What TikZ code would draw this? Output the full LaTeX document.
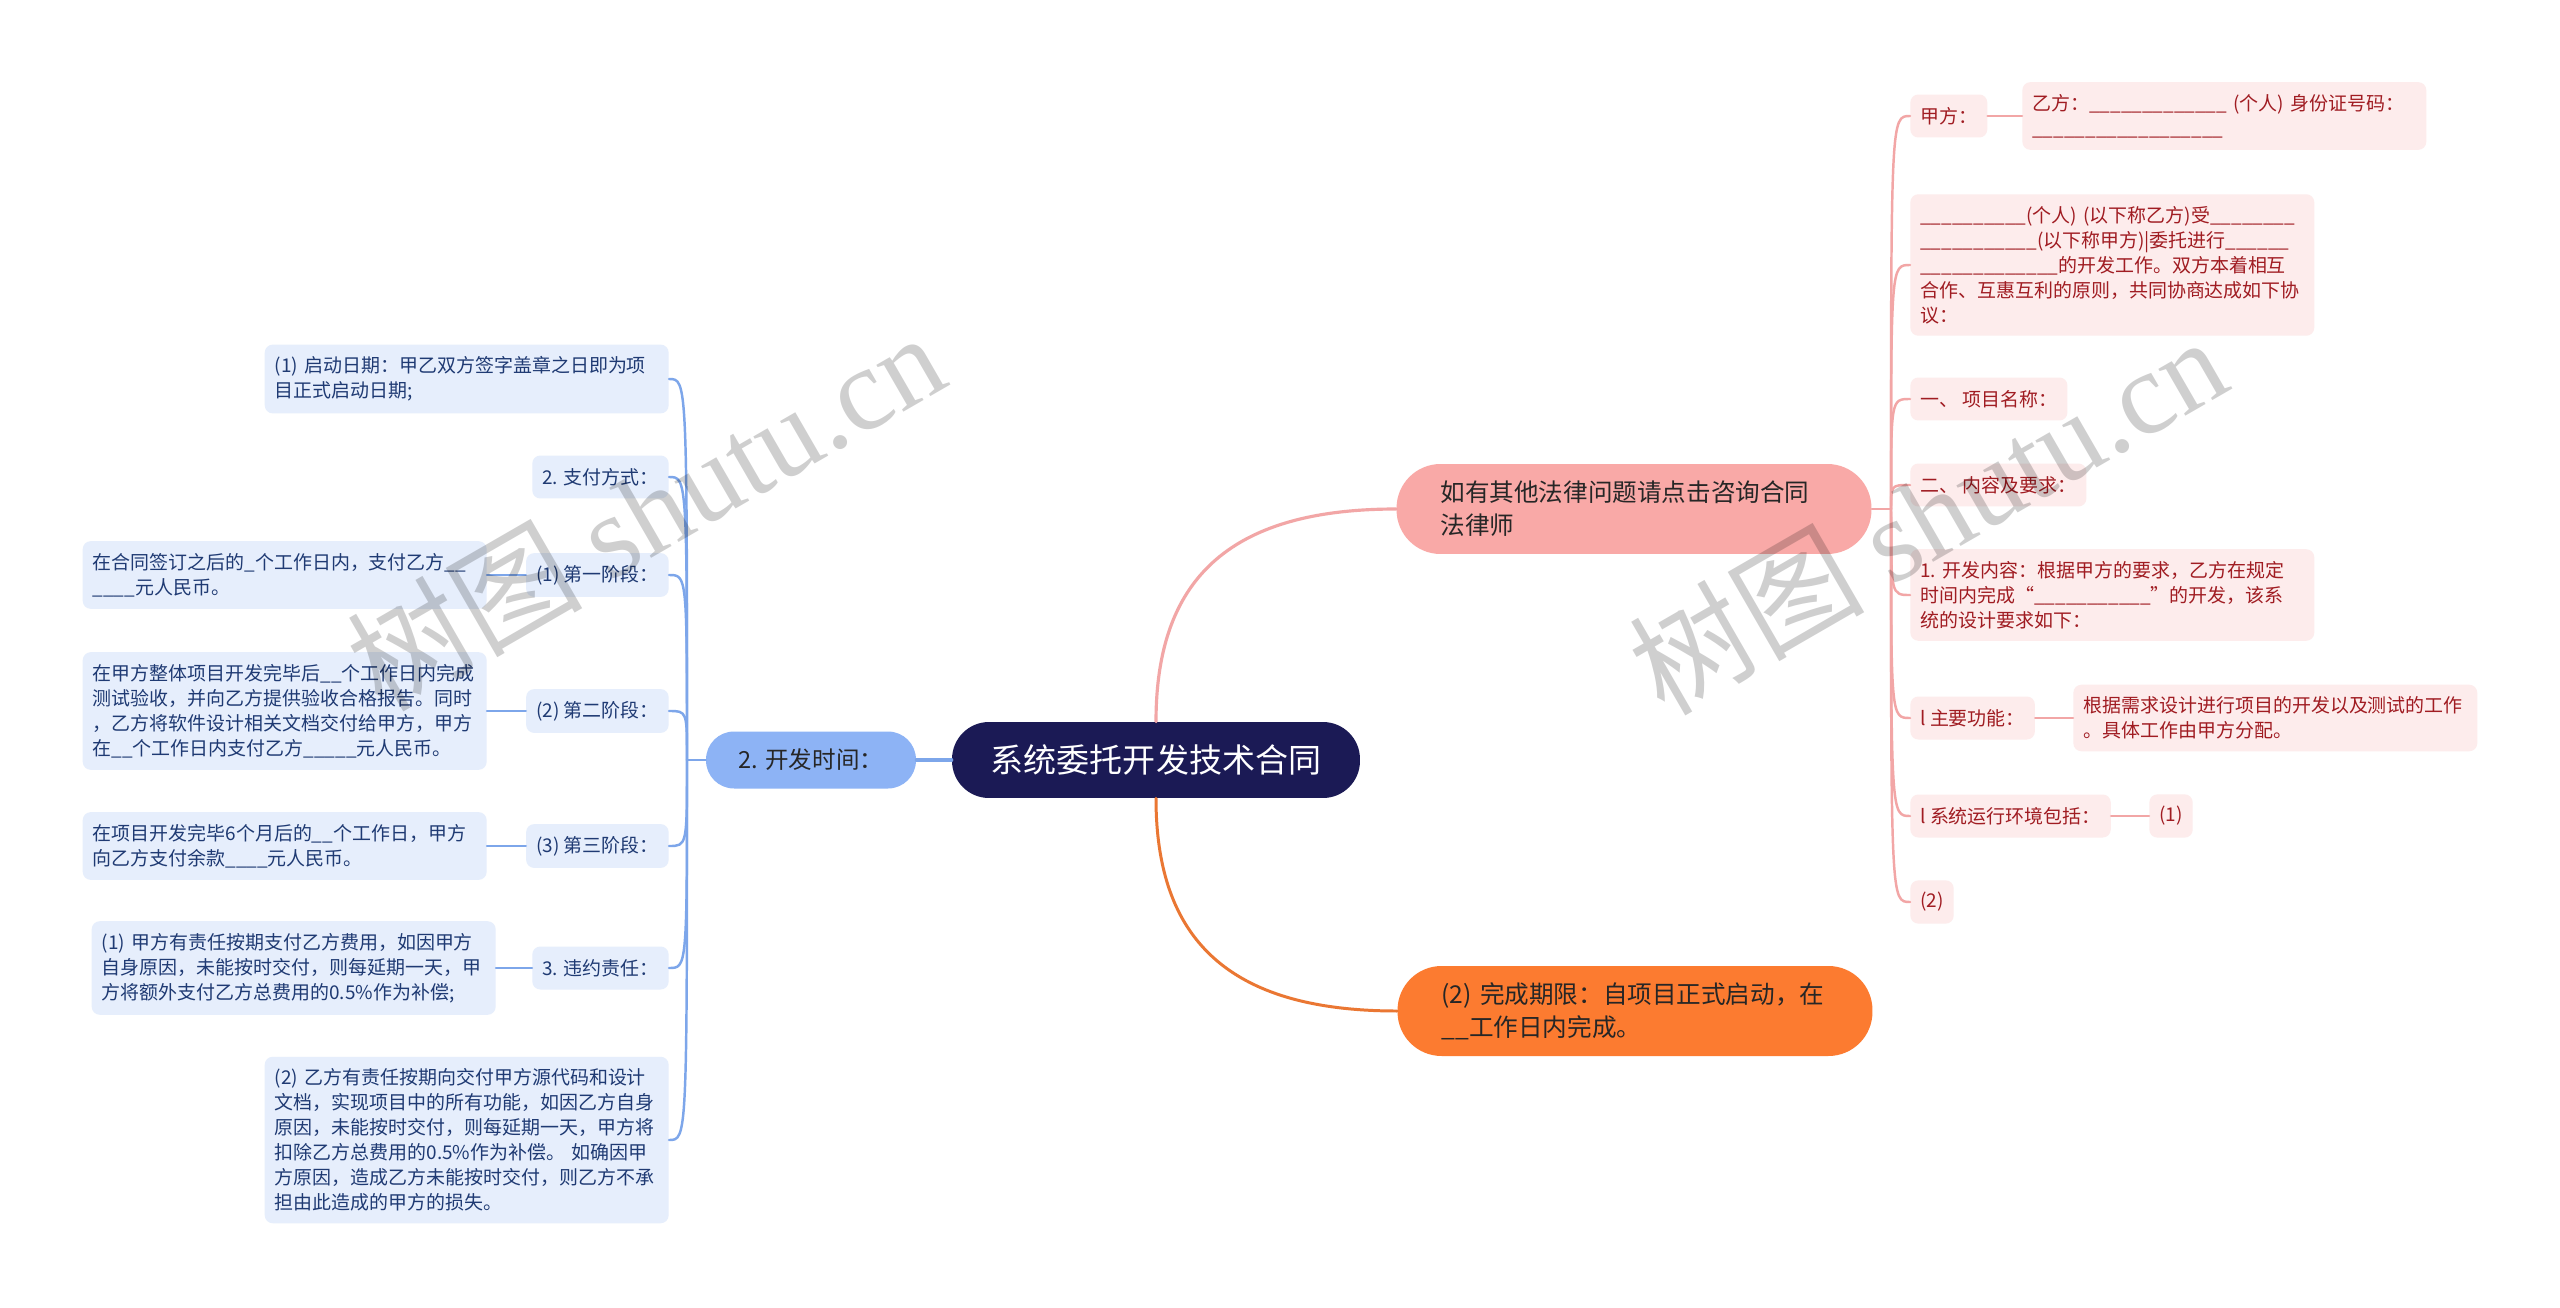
\documentclass[tikz,border=0pt]{standalone}
\usepackage{fontspec}
\setmainfont{Noto Sans CJK SC}
\newfontfamily\wmserif{Liberation Serif}
\definecolor{navy}{HTML}{1B1A55}
\definecolor{bluemid}{HTML}{8DB3F5}
\definecolor{bluepale}{HTML}{E6EEFC}
\definecolor{bluelink}{HTML}{7DA6EA}
\definecolor{bluetext}{HTML}{1F3A73}
\definecolor{rosemid}{HTML}{F9A9A7}
\definecolor{rosepale}{HTML}{FDECEC}
\definecolor{roselink}{HTML}{F2A6A6}
\definecolor{rosetext}{HTML}{A01C22}
\definecolor{orangemid}{HTML}{FC7B30}
\definecolor{orangelink}{HTML}{EA7733}
\newcommand{\ulrun}[1]{\foreach \k in {1,...,#1}{\_}}
\begin{document}
\begin{tikzpicture}[x=0.02cm, y=-0.02cm, line cap=round, line join=round,
	smallfont/.style={font=\fontsize{10.8}{14.2}\selectfont},
	rootbox/.style={fill=navy, text=white, rounded corners=0.74cm, minimum width=8.16cm, minimum height=1.52cm, font=\fontsize{18.8}{24}\selectfont},
	kfbox/.style={fill=bluemid, text=black!85, rounded corners=0.56cm, minimum width=4.2cm, minimum height=1.14cm, font=\fontsize{13.4}{18}\selectfont},
	bigbox/.style={rounded corners=0.88cm, minimum height=1.8cm, inner xsep=0.88cm, text width=7.74cm, align=left, text=black!85, font=\fontsize{14}{18.8}\selectfont},
	leaf/.style={rounded corners=0.16cm, inner xsep=0.2cm, inner ysep=0.24cm, minimum height=0.86cm, align=left, smallfont},
	blueleaf/.style={leaf, fill=bluepale, text=bluetext},
	roseleaf/.style={leaf, fill=rosepale, text=rosetext},
	wide/.style={text width=7.68cm},
	blueline/.style={draw=bluelink, line width=1.4pt},
	roseline/.style={draw=roselink, line width=1.4pt},
	orangeline/.style={draw=orangelink, line width=1.7pt},
	watermark/.style={rotate=30, text=black, text opacity=0.19, font=\fontsize{67}{67}\selectfont}]
	\fill[white](0,0)rectangle(2560,1308);
	\useasboundingbox(0,0)rectangle(2560,1308);
	\node[rootbox](root)at(1156,760){系统委托开发技术合同};
	\node[kfbox](kf)at(811,760){2. 开发时间：};
	\node[bigbox, fill=rosemid](lawyer)at(1634,509){如有其他法律问题请点击咨询合同\\法律师};
	\node[bigbox, fill=orangemid](deadline)at(1635,1011){(2)~完成期限：自项目正式启动，在\\\ulrun{2}工作日内完成。};
	\coordinate(jl)at(687,760);
	\node[blueleaf, wide, anchor=east](start)at(669,379){(1)~启动日期：甲乙双方签字盖章之日即为项\\目正式启动日期;};
	\node[blueleaf, anchor=east](pay)at(669,477){2. 支付方式：};
	\node[blueleaf, anchor=east](stage1)at(669,575){(1) 第一阶段：};
	\node[blueleaf, wide, anchor=east](stage1t)at(487,575){在合同签订之后的\_个工作日内，支付乙方\ulrun{2}\\\ulrun{4}元人民币。};
	\node[blueleaf, anchor=east](stage2)at(669,711){(2) 第二阶段：};
	\node[blueleaf, wide, anchor=east](stage2t)at(487,711){在甲方整体项目开发完毕后\ulrun{2}个工作日内完成\\测试验收，并向乙方提供验收合格报告。同时\\，乙方将软件设计相关文档交付给甲方，甲方\\在\ulrun{2}个工作日内支付乙方\ulrun{5}元人民币。};
	\node[blueleaf, anchor=east](stage3)at(669,846){(3) 第三阶段：};
	\node[blueleaf, wide, anchor=east](stage3t)at(487,846){在项目开发完毕6个月后的\ulrun{2}个工作日，甲方\\向乙方支付余款\ulrun{4}元人民币。};
	\node[blueleaf, anchor=east](breach)at(669,968){3. 违约责任：};
	\node[blueleaf, wide, anchor=east](dutya)at(496,968){(1)~甲方有责任按期支付乙方费用，如因甲方\\自身原因，未能按时交付，则每延期一天，甲\\方将额外支付乙方总费用的0.5\%作为补偿;};
	\node[blueleaf, wide, anchor=east](dutyb)at(669,1140){(2)~乙方有责任按期向交付甲方源代码和设计\\文档，实现项目中的所有功能，如因乙方自身\\原因，未能按时交付，则每延期一天，甲方将\\扣除乙方总费用的0.5\%作为补偿。~如确因甲\\方原因，造成乙方未能按时交付，则乙方不承\\担由此造成的甲方的损失。};
	\coordinate(jr)at(1891,509);
	\node[roseleaf, anchor=west](partya)at(1910,116){甲方：};
	\node[roseleaf, wide, anchor=west](partyb)at(2022,116){乙方：\ulrun{13}~(个人)~身份证号码：\\\ulrun{18}};
	\node[roseleaf, wide, anchor=west](intro)at(1910,265){\ulrun{10}(个人)~(以下称乙方)受\ulrun{8}\\\ulrun{11}(以下称甲方)|委托进行\ulrun{6}\\\ulrun{13}的开发工作。双方本着相互\\合作、互惠互利的原则，共同协商达成如下协\\议：};
	\node[roseleaf, anchor=west](pname)at(1910,399){一、 项目名称：};
	\node[roseleaf, anchor=west](preq)at(1910,485){二、 内容及要求：};
	\node[roseleaf, wide, anchor=west](content)at(1910,595){1.~开发内容：根据甲方的要求，乙方在规定\\时间内完成“\ulrun{11}”的开发，该系\\统的设计要求如下：};
	\node[roseleaf, anchor=west](mainfn)at(1910,718){l 主要功能：};
	\node[roseleaf, wide, anchor=west](mainfnt)at(2073,718){根据需求设计进行项目的开发以及测试的工作\\。具体工作由甲方分配。};
	\node[roseleaf, anchor=west](envir)at(1910,816){l 系统运行环境包括：};
	\node[roseleaf, anchor=west](envone)at(2149,816){(1)};
	\node[roseleaf, anchor=west](envtwo)at(1910,902){(2)};
	\draw[blueline, line width=1.8pt](root.west)--(kf.east);
	\draw[blueline](kf.west)--(jl);
	\foreach \n in {start,pay,stage1,stage2,stage3,breach,dutyb}
		\draw[blueline](jl)..controls(jl|-\n.east)..(\n.east);
	\draw[blueline](stage1.west)--(stage1t.east);
	\draw[blueline](stage2.west)--(stage2t.east);
	\draw[blueline](stage3.west)--(stage3t.east);
	\draw[blueline](breach.west)--(dutya.east);
	\draw[roseline, line width=1.8pt](root.north)..controls+(0,-140)and+(-170,0)..(lawyer.west);
	\draw[orangeline](root.south)..controls+(0,140)and+(-170,0)..(deadline.west);
	\draw[roseline](lawyer.east)--(jr);
	\foreach \n in {partya,intro,pname,preq,content,mainfn,envir,envtwo}
		\draw[roseline](jr)..controls(jr|-\n.west)..(\n.west);
	\draw[roseline](partya.east)--(partyb.west);
	\draw[roseline](mainfn.east)--(mainfnt.west);
	\draw[roseline](envir.east)--(envone.west);
	\node[watermark](wmleft)at(645,510){树图 {\wmserif shutu.cn}};
	\node[watermark](wmright)at(1927,514){树图 {\wmserif shutu.cn}};
\end{tikzpicture}
\end{document}
